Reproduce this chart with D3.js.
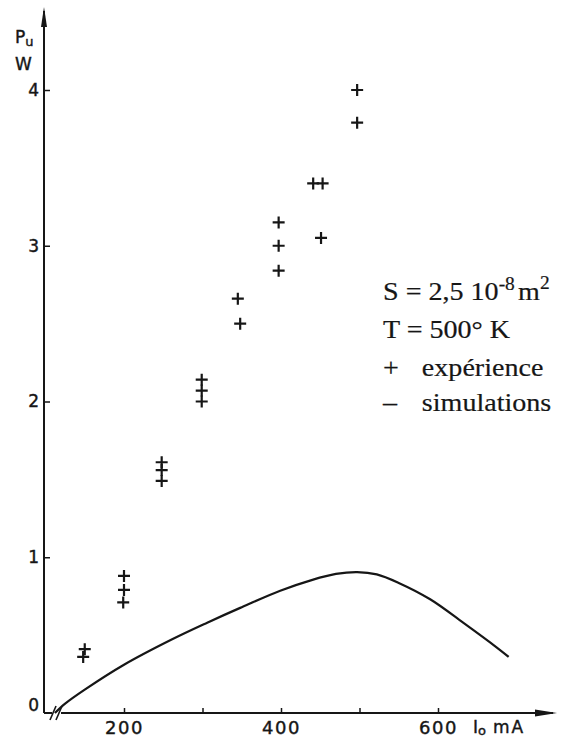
<!DOCTYPE html>
<html>
<head>
<meta charset="utf-8">
<script src="https://cdn.jsdelivr.net/npm/d3@7"></script>
<style>
  html, body { margin: 0; padding: 0; background: #fff; }
  svg { display: block; }
</style>
</head>
<body>
<svg id="chart" width="583" height="742"></svg>
<script>
// Measured useful power P_u (W) versus current I_o (mA)
const expCurrent = [150, 148, 200, 200, 199, 248, 248, 248, 299, 299, 299, 345, 348, 397, 397, 397, 441, 453, 451, 497, 497];
const expPower   = [0.41, 0.36, 0.88, 0.79, 0.71, 1.61, 1.56, 1.49, 2.14, 2.07, 2.00, 2.66, 2.50, 3.15, 3.00, 2.84, 3.40, 3.40, 3.05, 4.00, 3.79];

// Simulated curve
const simCurrent = [112, 125, 150, 200, 262, 306, 348, 399, 440, 470, 497, 522, 550, 590, 632, 675, 690];
const simPower   = [0, 0.06, 0.15, 0.31, 0.475, 0.58, 0.675, 0.785, 0.855, 0.893, 0.905, 0.89, 0.835, 0.73, 0.58, 0.42, 0.36];

// Axis ticks
const xTicks = [200, 300, 400, 500, 600];
const xTickLabels = ["200", "", "400", "", "600"];
const yTicks = [0, 1, 2, 3, 4];
const yTickLabels = ["0", "1", "2", "3", "4"];

// Legend lines
const legendLines = ["S = 2,5 10", "T = 500° K", "expérience", "simulations"];

const ink = "#161616";
const svg = d3.select("#chart");

const x = d3.scaleLinear().domain([200, 600]).range([124, 438]);
const y = d3.scaleLinear().domain([0, 4]).range([713, 90]);

const x0 = 44, xEnd = 557, yTop = 7;
const yBase = y(0);

// Slightly heavier strokes on the sans-serif labels
const heavy = sel => sel.attr("stroke", ink).attr("stroke-width", 0.4);

// X axis with inward ticks
const xAxis = svg.append("g")
  .attr("transform", `translate(0,${yBase})`)
  .call(d3.axisBottom(x).tickValues(xTicks)
    .tickSizeInner(-5).tickSizeOuter(0).tickPadding(8)
    .tickFormat((d, i) => xTickLabels[i]));
xAxis.select(".domain").remove();
xAxis.selectAll("line").attr("stroke", ink).attr("stroke-width", 1.5);
xAxis.selectAll("text")
  .attr("fill", ink)
  .style("font-family", "DejaVu Sans")
  .style("font-size", "18px")
  .style("letter-spacing", "1.5px")
  .call(heavy);

// Y axis with inward ticks
const yAxis = svg.append("g")
  .attr("transform", `translate(${x0},0)`)
  .call(d3.axisLeft(y).tickValues(yTicks)
    .tickSizeInner(-6).tickSizeOuter(0).tickPadding(5)
    .tickFormat((d, i) => yTickLabels[i]));
yAxis.select(".domain").remove();
yAxis.selectAll("line").attr("stroke", ink).attr("stroke-width", 1.5);
yAxis.selectAll(".tick").filter(d => d === 0).select("line").remove();
yAxis.selectAll("text")
  .attr("fill", ink)
  .style("font-family", "DejaVu Sans")
  .style("font-size", "17px")
  .call(heavy);
yAxis.selectAll(".tick").filter(d => d === 0).select("text").attr("y", -8);

// Axis lines with arrowheads
svg.append("line").attr("x1", x0).attr("y1", yBase).attr("x2", xEnd - 4).attr("y2", yBase)
  .attr("stroke", ink).attr("stroke-width", 2);
svg.append("path")
  .attr("d", `M${xEnd},${yBase} L${xEnd - 22},${yBase - 3.5} L${xEnd - 22},${yBase + 3.5} Z`)
  .attr("fill", ink);
svg.append("line").attr("x1", x0).attr("y1", yBase).attr("x2", x0).attr("y2", yTop + 4)
  .attr("stroke", ink).attr("stroke-width", 2);
svg.append("path")
  .attr("d", `M${x0},${yTop} L${x0 - 3},${yTop + 20} L${x0 + 3},${yTop + 20} Z`)
  .attr("fill", ink);

// Axis break marks
svg.append("rect").attr("x", 52).attr("y", yBase - 3).attr("width", 9).attr("height", 6).attr("fill", "#fff");
[50, 56].forEach(bx => {
  svg.append("line")
    .attr("x1", bx).attr("y1", yBase + 7).attr("x2", bx + 6).attr("y2", yBase - 7)
    .attr("stroke", ink).attr("stroke-width", 1.6);
});

// Axis titles
const yTitle = svg.append("text").attr("x", 15).attr("y", 43)
  .attr("fill", ink).style("font-family", "DejaVu Sans").style("font-size", "17px").call(heavy);
yTitle.append("tspan").text("P");
yTitle.append("tspan").attr("dy", 3).style("font-size", "13px").text("u");
svg.append("text").attr("x", 15).attr("y", 70)
  .attr("fill", ink).style("font-family", "DejaVu Sans").style("font-size", "17px").call(heavy).text("W");

const xTitle = svg.append("text").attr("x", 473).attr("y", 733)
  .attr("fill", ink).style("font-family", "DejaVu Sans").style("font-size", "17px").call(heavy);
xTitle.append("tspan").text("I");
xTitle.append("tspan").attr("dy", 2).style("font-size", "13px").text("o");
xTitle.append("tspan").attr("dy", -2).attr("dx", 7).style("letter-spacing", "2px").text("mA");

// Simulation curve
const line = d3.line()
  .x(d => x(d[0]))
  .y(d => y(d[1]))
  .curve(d3.curveCatmullRom.alpha(0.5));
svg.append("path")
  .datum(simCurrent.map((c, i) => [c, simPower[i]]))
  .attr("d", line)
  .attr("fill", "none")
  .attr("stroke", ink)
  .attr("stroke-width", 2.2);

// Experimental points as plus marks
const half = 6;
svg.append("g").selectAll("path")
  .data(expCurrent.map((c, i) => [c, expPower[i]]))
  .join("path")
  .attr("d", d => {
    const px = x(d[0]), py = y(d[1]);
    return `M${px - half},${py} H${px + half} M${px},${py - half} V${py + half}`;
  })
  .attr("stroke", ink)
  .attr("stroke-width", 2.2)
  .attr("fill", "none");

// Legend
const legend = svg.append("g")
  .attr("transform", "translate(383,0) scale(1.08,1)")
  .attr("fill", ink)
  .attr("stroke", ink)
  .attr("stroke-width", 0.2)
  .style("font-family", "Liberation Serif")
  .style("font-size", "26px");

const l1 = legend.append("text").attr("x", 0).attr("y", 300);
l1.append("tspan").text(legendLines[0]);
l1.append("tspan").attr("dy", -10).style("font-size", "18px").text("-8");
l1.append("tspan").attr("dy", 10).attr("dx", 3).text("m");
l1.append("tspan").attr("dy", -11).style("font-size", "18px").text("2");

legend.append("text").attr("x", 0).attr("y", 338).text(legendLines[1]);
legend.append("text").attr("x", 0).attr("y", 376).text("+");
legend.append("text").attr("x", 36).attr("y", 376).text(legendLines[2]);
legend.append("text").attr("x", 0).attr("y", 411).text("\u2013");
legend.append("text").attr("x", 36).attr("y", 411).text(legendLines[3]);
</script>
</body>
</html>
